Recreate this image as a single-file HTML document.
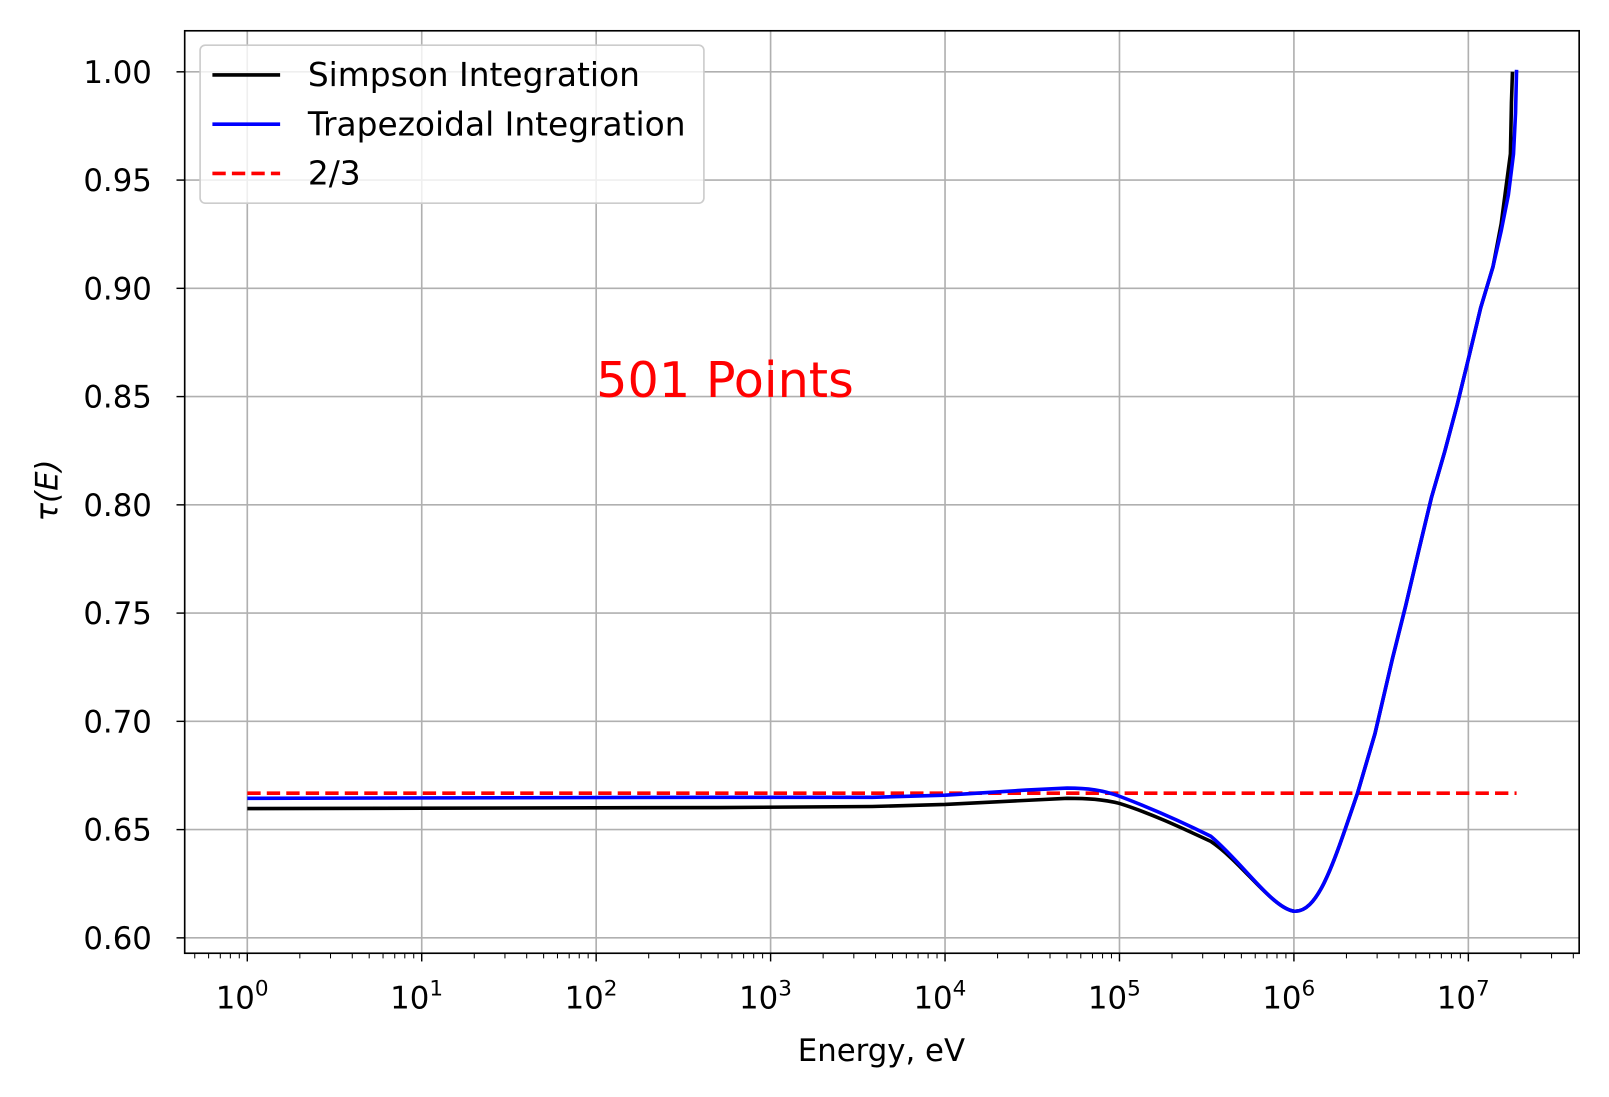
<!DOCTYPE html>
<html><head><meta charset="utf-8"><style>
html,body{margin:0;padding:0;background:#fff;overflow:hidden;width:1609px;height:1097px}
svg{display:block}
svg text{font-family:"DejaVu Sans","Liberation Sans",sans-serif;fill:#000}
</style></head><body>
<svg width="1609" height="1097" viewBox="0 0 1609 1097" xmlns="http://www.w3.org/2000/svg">
<defs>
<path id="mt" d="M51.2,929v5M81.1,929v5M102.3,929v5M118.8,929v5M132.3,929v5M143.7,929v5M153.5,929v5M162.2,929v5" stroke="#000" stroke-width="1"/>
</defs>
<rect width="1609" height="1097" fill="#fff"/>
<g transform="scale(1.0261)">
<g stroke="#b0b0b0" stroke-width="1.6">
<line x1="241" y1="30" x2="241" y2="929"/><line x1="411" y1="30" x2="411" y2="929"/>
<line x1="581" y1="30" x2="581" y2="929"/><line x1="751" y1="30" x2="751" y2="929"/>
<line x1="921" y1="30" x2="921" y2="929"/><line x1="1091" y1="30" x2="1091" y2="929"/>
<line x1="1261" y1="30" x2="1261" y2="929"/><line x1="1431" y1="30" x2="1431" y2="929"/>
<line x1="180" y1="70" x2="1539" y2="70"/><line x1="180" y1="175.5" x2="1539" y2="175.5"/>
<line x1="180" y1="281" x2="1539" y2="281"/><line x1="180" y1="386.5" x2="1539" y2="386.5"/>
<line x1="180" y1="492" x2="1539" y2="492"/><line x1="180" y1="597.5" x2="1539" y2="597.5"/>
<line x1="180" y1="703" x2="1539" y2="703"/><line x1="180" y1="808.5" x2="1539" y2="808.5"/>
<line x1="180" y1="914" x2="1539" y2="914"/>
</g>
<line x1="241" y1="773" x2="1478" y2="773" stroke="red" stroke-width="3.5" stroke-dasharray="13,6"/>
<path d="M241,788 L700,787 L850,786 L921,784 L1000,780 L1040,778 C1060,778 1075,779 1091,783 C1120,792 1150,806 1180,820 C1210,840 1240,885 1261,888 C1285,890 1300,840 1323,773 L1340,715 L1357,642 L1370,590 L1383,535 L1395,485 L1408,440 L1420,395 L1431,350 L1443,300 L1455,260 L1463,218 L1468,180 L1470,165 L1472,150 L1473,100 L1474,70" fill="none" stroke="#000" stroke-width="3.5"/>
<path d="M241,778 L700,777 L850,777 L921,775 L1000,770 L1040,768 C1060,768 1075,770 1091,776 C1120,787 1150,800 1180,815 C1210,840 1240,885 1261,888 C1285,890 1300,840 1323,773 L1340,715 L1357,642 L1370,590 L1383,535 L1395,485 L1408,440 L1420,395 L1431,350 L1443,300 L1455,260 L1463,225 L1470,190 L1475,150 L1477,110 L1478,68" fill="none" stroke="blue" stroke-width="3.5"/>
<rect x="180" y="30" width="1359" height="899" fill="none" stroke="#000" stroke-width="1.6"/>
<g stroke="#000" stroke-width="1.4">
<line x1="241" y1="929" x2="241" y2="937"/><line x1="411" y1="929" x2="411" y2="937"/>
<line x1="581" y1="929" x2="581" y2="937"/><line x1="751" y1="929" x2="751" y2="937"/>
<line x1="921" y1="929" x2="921" y2="937"/><line x1="1091" y1="929" x2="1091" y2="937"/>
<line x1="1261" y1="929" x2="1261" y2="937"/><line x1="1431" y1="929" x2="1431" y2="937"/>
<line x1="172" y1="70" x2="180" y2="70"/><line x1="172" y1="175.5" x2="180" y2="175.5"/>
<line x1="172" y1="281" x2="180" y2="281"/><line x1="172" y1="386.5" x2="180" y2="386.5"/>
<line x1="172" y1="492" x2="180" y2="492"/><line x1="172" y1="597.5" x2="180" y2="597.5"/>
<line x1="172" y1="703" x2="180" y2="703"/><line x1="172" y1="808.5" x2="180" y2="808.5"/>
<line x1="172" y1="914" x2="180" y2="914"/>
</g>
<path d="M189.8,929v5M203.3,929v5M214.7,929v5M224.5,929v5M233.2,929v5M1482.2,929v5M1512.1,929v5M1533.3,929v5" stroke="#000" stroke-width="1"/>
<use href="#mt" x="241"/><use href="#mt" x="411"/><use href="#mt" x="581"/><use href="#mt" x="751"/>
<use href="#mt" x="921"/><use href="#mt" x="1091"/><use href="#mt" x="1261"/>
<g font-size="30" text-anchor="end">
<text x="148" y="81">1.00</text><text x="148" y="186">0.95</text><text x="148" y="292">0.90</text>
<text x="148" y="397">0.85</text><text x="148" y="503">0.80</text><text x="148" y="608">0.75</text>
<text x="148" y="714">0.70</text><text x="148" y="819">0.65</text><text x="148" y="925">0.60</text>
</g>
<g font-size="30" text-anchor="middle">
<text x="236" y="983">10<tspan font-size="21" dy="-13">0</tspan></text>
<text x="406" y="983">10<tspan font-size="21" dy="-13">1</tspan></text>
<text x="576" y="983">10<tspan font-size="21" dy="-13">2</tspan></text>
<text x="746" y="983">10<tspan font-size="21" dy="-13">3</tspan></text>
<text x="916" y="983">10<tspan font-size="21" dy="-13">4</tspan></text>
<text x="1086" y="983">10<tspan font-size="21" dy="-13">5</tspan></text>
<text x="1256" y="983">10<tspan font-size="21" dy="-13">6</tspan></text>
<text x="1426" y="983">10<tspan font-size="21" dy="-13">7</tspan></text>
<text x="859" y="1034">Energy, eV</text>
</g>
<text x="0" y="0" font-size="30" font-style="italic" text-anchor="middle" transform="translate(56,478) rotate(-90)">τ(E)</text>
<text x="581" y="387" font-size="48" style="fill:red">501 Points</text>
<rect x="195" y="44" width="491" height="154" rx="5" fill="#fff" fill-opacity="0.8" stroke="#ccc" stroke-width="1.6"/>
<line x1="207" y1="73" x2="273" y2="73" stroke="#000" stroke-width="3.5"/>
<line x1="207" y1="121" x2="273" y2="121" stroke="blue" stroke-width="3.5"/>
<line x1="207" y1="169" x2="273" y2="169" stroke="red" stroke-width="3.5" stroke-dasharray="13,6"/>
<g font-size="32"><text x="300" y="84">Simpson Integration</text><text x="300" y="132">Trapezoidal Integration</text><text x="300" y="180">2/3</text></g>
</g>
</svg>
</body></html>
